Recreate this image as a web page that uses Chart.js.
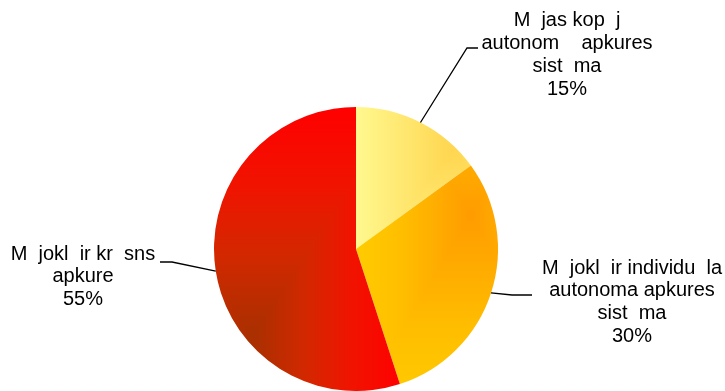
<!DOCTYPE html>
<html>
<head>
<meta charset="utf-8">
<script src="https://cdn.jsdelivr.net/npm/chart.js"></script>
<style>
  html, body { margin: 0; padding: 0; background: #fff; }
  #wrap { width: 725px; height: 391px; position: relative; }
</style>
</head>
<body>
<div id="wrap"><canvas id="heatChart"></canvas></div>
<script>
// category names (letters with diacritics are missing in the source, gaps kept)
var categories = [
  ['M  jas kop  j', 'autonom    apkures', 'sist  ma'],
  ['M  jokl  ir individu  la', 'autonoma apkures', 'sist  ma'],
  ['M  jokl  ir kr  sns', 'apkure']
];
var shares = [15, 30, 55];

// where each label block sits and how its leader line bends
var labelLayout = [
  { x: 567, y: 20, lh: 23, leader: [[467, 48], [478, 48]] },
  { x: 632, y: 268, lh: 22.7, leader: [[512, 295], [532, 295]] },
  { x: 83, y: 254, lh: 22.5, leader: [[172, 262], [160, 262]] }
];

var W = 725, H = 391;

function hexToRgb(h) {
  return [parseInt(h.substr(1, 2), 16), parseInt(h.substr(3, 2), 16), parseInt(h.substr(5, 2), 16)];
}

function colorAt(stops, t) {
  for (var i = 1; i < stops.length; i++) {
    if (t <= stops[i][0]) {
      var a = stops[i - 1], b = stops[i];
      var f = (t - a[0]) / (b[0] - a[0]);
      var ca = hexToRgb(a[1]), cb = hexToRgb(b[1]);
      return [ca[0] + (cb[0] - ca[0]) * f, ca[1] + (cb[1] - ca[1]) * f, ca[2] + (cb[2] - ca[2]) * f];
    }
  }
  return hexToRgb(stops[stops.length - 1][1]);
}

// rectangular "from centre" gradient, like the office chart fill
function rectShade(ctx, cx, cy, sx, sy, stops) {
  var c = document.createElement('canvas');
  c.width = W; c.height = H;
  var g = c.getContext('2d');
  var img = g.createImageData(W, H);
  for (var y = 0; y < H; y++) {
    for (var x = 0; x < W; x++) {
      var t = Math.min(1, Math.max(Math.abs(x - cx) / sx, Math.abs(y - cy) / sy));
      var col = colorAt(stops, t);
      var k = (y * W + x) * 4;
      img.data[k] = col[0]; img.data[k + 1] = col[1]; img.data[k + 2] = col[2]; img.data[k + 3] = 255;
    }
  }
  g.putImageData(img, 0, 0);
  return ctx.createPattern(c, 'no-repeat');
}

var ctx = document.getElementById('heatChart').getContext('2d');

var fills = [
  rectShade(ctx, 452, 150, 95, 120, [[0, '#FFD650'], [1, '#FFF88E']]),
  rectShade(ctx, 470, 215, 115, 190, [[0, '#FF9C00'], [0.6, '#FFBE00'], [1, '#FFCC00']]),
  rectShade(ctx, 252, 336, 150, 230, [[0, '#A83000'], [0.35, '#D22800'], [0.65, '#F01400'], [1, '#FF0000']])
];

var labelPlugin = {
  id: 'sliceLabels',
  afterDatasetsDraw: function (chart) {
    var c = chart.ctx;
    var arcs = chart.getDatasetMeta(0).data;
    c.save();
    c.font = '20px "Liberation Sans", Arial, sans-serif';
    c.fillStyle = '#000';
    c.strokeStyle = '#000';
    c.lineWidth = 1.3;
    c.textAlign = 'center';
    c.textBaseline = 'middle';
    arcs.forEach(function (arc, i) {
      var p = arc.getProps(['x', 'y', 'startAngle', 'endAngle', 'outerRadius'], true);
      var mid = (p.startAngle + p.endAngle) / 2;
      var ex = p.x + Math.cos(mid) * p.outerRadius;
      var ey = p.y + Math.sin(mid) * p.outerRadius;
      var L = labelLayout[i];
      c.beginPath();
      c.moveTo(ex, ey);
      L.leader.forEach(function (pt) { c.lineTo(pt[0], pt[1]); });
      c.stroke();
      var lines = categories[i].concat([shares[i] + '%']);
      lines.forEach(function (s, k) { c.fillText(s, L.x, L.y + k * L.lh); });
    });
    c.restore();
  }
};

new Chart(ctx, {
  type: 'pie',
  data: {
    labels: categories.map(function (l) { return l.join(' '); }),
    datasets: [{
      data: shares,
      backgroundColor: fills,
      borderWidth: 0,
      offset: 0,
      hoverOffset: 0
    }]
  },
  options: {
    responsive: true,
    maintainAspectRatio: false,
    animation: false,
    layout: { padding: { left: 214, right: 227, top: 107, bottom: 0 } },
    plugins: {
      legend: { display: false },
      tooltip: { enabled: false }
    }
  },
  plugins: [labelPlugin]
});
</script>
</body>
</html>
